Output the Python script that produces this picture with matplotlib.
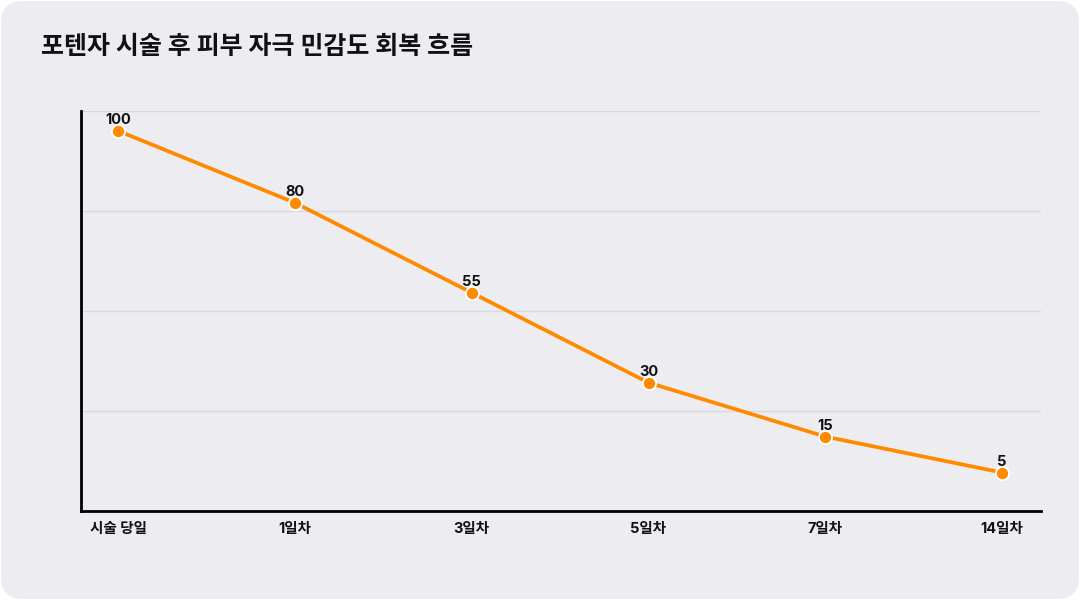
import matplotlib
matplotlib.use("Agg")
import matplotlib.pyplot as plt
from matplotlib.patches import FancyBboxPatch
import numpy as np

plt.rcParams['font.family'] = ['Inter', 'Noto Sans CJK KR', 'DejaVu Sans']

title = "포텐자 시술 후 피부 자극 민감도 회복 흐름"
categories = ["시술 당일", "1일차", "3일차", "5일차", "7일차", "14일차"]
values = [100, 80, 55, 30, 15, 5]

W, H = 1080, 600
fig = plt.figure(figsize=(W / 100, H / 100), dpi=100)
fig.patch.set_facecolor("white")

card = FancyBboxPatch((1 / W, 1 / H), 1 - 2 / W, 1 - 2 / H,
                      boxstyle="round,pad=0,rounding_size=0.02",
                      transform=fig.transFigure, facecolor="#EDECF1",
                      edgecolor="none", zorder=-10,
                      mutation_aspect=W / H)
fig.patches.append(card)

left, right = 81 / W, 1041 / W
bottom, top = (H - 510.7) / H, (H - 110.7) / H
ax = fig.add_axes([left, bottom, right - left, top - bottom])
ax.set_zorder(1)
ax.set_facecolor("none")

x = np.arange(len(categories))
ymin, ymax = -5.6, 105.6
ax.set_xlim(-0.21, len(categories) - 1 + 0.22)
ax.set_ylim(ymin, ymax)

ax.set_yticks(np.linspace(ymin, ymax, 5))
ax.yaxis.grid(True, color="#D9D9DD", linewidth=1)
ax.set_axisbelow(True)
ax.tick_params(axis="y", length=0, labelleft=False)

ax.set_xticks(x)
ax.set_xticklabels(categories, fontsize=10.5, fontweight="bold", color="#111111")
ax.tick_params(axis="x", length=0, pad=8)

for s in ["top", "right"]:
    ax.spines[s].set_visible(False)
for s in ["left", "bottom"]:
    ax.spines[s].set_color("#000000")
    ax.spines[s].set_linewidth(2)

ax.plot(x, values, color="#FF8A00", linewidth=2.7, zorder=3,
        marker="o", markersize=9.5, markerfacecolor="#FF8A00",
        markeredgecolor="white", markeredgewidth=1.3, clip_on=False)

for xi, v in zip(x, values):
    ax.annotate(str(v), (xi, v), xytext=(0, 2.5), textcoords="offset points",
                ha="center", va="bottom", fontsize=10.5, fontweight="bold",
                color="#111111", zorder=4)

fig.text(41 / W, 1 - 47 / H, title, fontsize=18, fontweight="bold",
         color="#111111", ha="left", va="center", zorder=5)

fig.savefig("out.png", dpi=100)
